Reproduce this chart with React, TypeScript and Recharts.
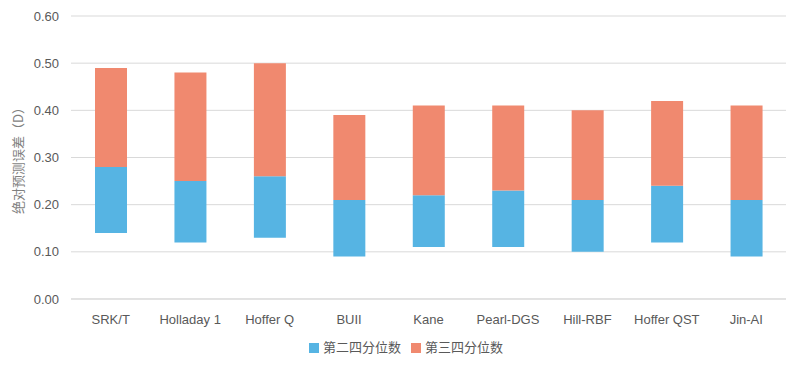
import React from 'react';
import {
  BarChart,
  Bar,
  XAxis,
  YAxis,
  CartesianGrid,
  Legend,
  Label,
} from 'recharts';

const categories = [
  'SRK/T',
  'Holladay 1',
  'Hoffer Q',
  'BUII',
  'Kane',
  'Pearl-DGS',
  'Hill-RBF',
  'Hoffer QST',
  'Jin-AI',
];
const q1 = [0.14, 0.12, 0.13, 0.09, 0.11, 0.11, 0.1, 0.12, 0.09];
const median = [0.28, 0.25, 0.26, 0.21, 0.22, 0.23, 0.21, 0.24, 0.21];
const q3 = [0.49, 0.48, 0.5, 0.39, 0.41, 0.41, 0.4, 0.42, 0.41];
const yTicks = [0, 0.1, 0.2, 0.3, 0.4, 0.5, 0.6];

const data = categories.map((name, i) => ({
  name,
  base: q1[i],
  second: +(median[i] - q1[i]).toFixed(2),
  third: +(q3[i] - median[i]).toFixed(2),
}));

const FONT = '"Liberation Sans", Arial, "Noto Sans CJK SC", sans-serif';
const TEXT = '#595959';

const App: React.FC = () => {
  return (
    <div
      style={{
        position: 'absolute',
        left: 0,
        top: 0,
        width: 808,
        height: 379,
        background: '#fff',
        fontFamily: FONT,
      }}
    >
      <BarChart
        width={808}
        height={379}
        data={data}
        margin={{ top: 16, right: 22, left: 0, bottom: 22 }}
        barSize={32}
      >
        <CartesianGrid vertical={false} stroke="#d9d9d9" />
        <XAxis
          dataKey="name"
          axisLine={{ stroke: '#d9d9d9' }}
          tickLine={false}
          tick={{ fill: TEXT, fontSize: 13, fontFamily: FONT }}
          tickMargin={10}
          height={38}
        />
        <YAxis
          domain={[0, 0.6]}
          ticks={yTicks}
          tickFormatter={(v: number) => v.toFixed(2)}
          axisLine={false}
          tickLine={false}
          tick={{ fill: TEXT, fontSize: 13, fontFamily: FONT }}
          tickMargin={6}
          width={71}
        >
          <Label
            value="绝对预测误差（D）"
            angle={-90}
            position="insideLeft"
            offset={18}
            style={{
              fill: '#7f7f7f',
              fontSize: 13,
              fontFamily: '"Noto Sans CJK SC", sans-serif',
              textAnchor: 'middle',
            }}
          />
        </YAxis>
        <Legend
          verticalAlign="bottom"
          height={20}
          iconType="square"
          iconSize={10}
          itemSorter="dataKey"
          wrapperStyle={{
            left: 18,
            fontSize: 13,
            fontFamily: '"Noto Sans CJK SC", sans-serif',
          }}
          formatter={(value: string) => (
            <span style={{ color: TEXT }}>{value}</span>
          )}
        />
        <Bar
          dataKey="base"
          stackId="a"
          fill="transparent"
          legendType="none"
          isAnimationActive={false}
        />
        <Bar
          dataKey="second"
          name="第二四分位数"
          stackId="a"
          fill="#56B4E3"
          isAnimationActive={false}
        />
        <Bar
          dataKey="third"
          name="第三四分位数"
          stackId="a"
          fill="#F0896F"
          isAnimationActive={false}
        />
      </BarChart>
    </div>
  );
};

export default App;
